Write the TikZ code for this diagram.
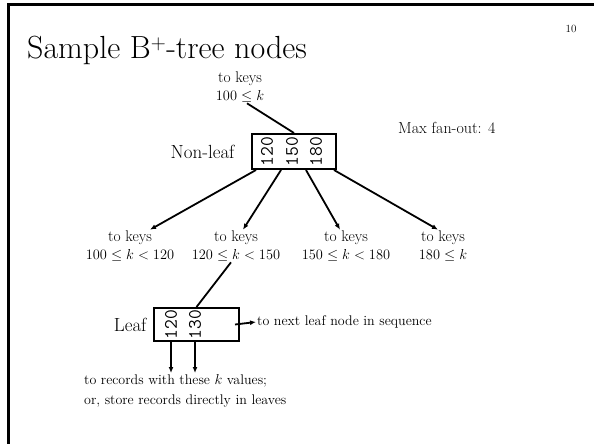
\documentclass[tikz,border=0pt]{standalone}
\usepackage{amsmath}
\usepackage{amssymb}
\usetikzlibrary{positioning,arrows.meta}

\tikzset{
	keybox/.style={draw, line width=2pt, minimum width=84pt, minimum height=35pt, inner sep=0pt},
	keyval/.style={rotate=90, font=\fontsize{19}{19}\selectfont\ttfamily, inner sep=0pt},
	lbl/.style={font=\fontsize{15.5}{17.5}\selectfont, align=center, inner sep=1pt},
	nlabel/.style={font=\fontsize{19}{22}\selectfont},
	link/.style={line width=1.8pt},
	ptr/.style={line width=1.8pt, -{Latex[length=6pt,width=5pt]}},
}

\begin{document}
\begin{tikzpicture}[x=1pt,y=-1pt]
	\useasboundingbox (0,0) rectangle (594,444);
	% slide frame
	\draw[line width=3pt] (8.5,444) -- (8.5,4.5) -- (594,4.5);

	% Title and page number
	\node[anchor=base west, inner sep=0pt, font=\fontsize{32}{36}\selectfont] (title) at (27,59) {Sample B$^+$-tree nodes};
	\node[font=\fontsize{11}{12}\selectfont] (page) at (571,29) {10};

	% Non-leaf node
	\node[keybox] (nl) at (294,151.5) {};
	\node[keyval] (n1) at (267,151.5) {120};
	\node[keyval] (n2) at (292,151.5) {150};
	\node[keyval] (n3) at (316,151.5) {180};
	\node[nlabel, left=13pt of nl] (nltext) {Non-leaf};
	\node[lbl] (up) at (240,87) {to keys\\$100\le k$};
	\draw[link] ([xshift=7pt]up.south) -- (nl.north);
	\node[lbl, anchor=west, font=\fontsize{16}{18}\selectfont] (fan) at (397,128) {Max fan-out: 4};

	% Children of the non-leaf node
	\node[lbl] (c1) at (130,246) {to keys\\$100\le k<120$};
	\node[lbl] (c2) at (236,246) {to keys\\$120\le k<150$};
	\node[lbl] (c3) at (346,246) {to keys\\$150\le k<180$};
	\node[lbl] (c4) at (443,246) {to keys\\$180\le k$};
	\draw[ptr] ([xshift=5pt]nl.south west) -- ([xshift=20pt]c1.north);
	\draw[ptr] ([xshift=30pt]nl.south west) -- ([xshift=7pt]c2.north);
	\draw[ptr] ([xshift=55pt]nl.south west) -- ([xshift=-6pt]c3.north);
	\draw[ptr] ([xshift=-3pt]nl.south east) -- ([xshift=-5pt]c4.north);

	% Leaf node
	\node[keybox, minimum width=85pt, minimum height=33pt] (lf) at (196.5,324.5) {};
	\node[keyval] (l1) at (171,324.5) {120};
	\node[keyval] (l2) at (195,324.5) {130};
	\node[nlabel, left=3pt of lf] (lftext) {Leaf};
	\draw[link] ([xshift=-5pt]c2.south) -- (lf.north);

	\node[lbl, anchor=west, font=\fontsize{14}{17}\selectfont] (nxt) at (256,322) {to next leaf node in sequence};
	\draw[ptr] ([xshift=-5pt]lf.east) -- (nxt.west);

	\node[lbl, align=left, anchor=north west, font=\fontsize{14}{20}\selectfont] (rec) at (83,373) {to records with these $k$ values;\\or, store records directly in leaves};
	\draw[ptr] (l1 |- lf.south) -- (l1 |- rec.north);
	\draw[ptr] (l2 |- lf.south) -- (l2 |- rec.north);
\end{tikzpicture}
\end{document}
